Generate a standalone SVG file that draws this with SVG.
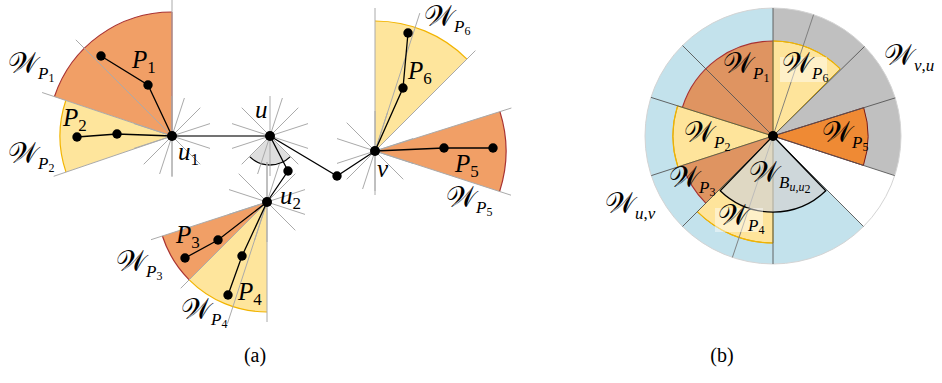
<svg xmlns="http://www.w3.org/2000/svg" xmlns:xlink="http://www.w3.org/1999/xlink" width="942" height="383" viewBox="0 0 942 383">
<style>
.g{stroke:#aaaaaa;stroke-width:1;fill:none}
.e{stroke:#000;stroke-width:1.3;fill:none}
.d{fill:#000}
.or{fill:#f19f66}
.ye{fill:#fee59c}
.ra{stroke:#a83232;stroke-width:1.2;fill:none}
.ya{stroke:#f2b400;stroke-width:1.2;fill:none}
.dl{stroke:#555;stroke-width:0.9;fill:none}
text{font-family:'Liberation Serif','DejaVu Serif',serif;fill:#000}
.w{font-family:'DejaVu Serif','DejaVu Sans','Liberation Serif',serif;font-size:29px}
.i{font-style:italic}
.m{font-size:25px}
.s{font-size:17px}
.t{font-size:12px}
.cap{font-size:20px}
</style>
<defs>
<g id="star" class="g">
<line x1="38" y1="-12.4" x2="-38" y2="12.4"/>
<line x1="28.3" y1="-28.3" x2="-28.3" y2="28.3"/>
<line x1="12.4" y1="-38" x2="-12.4" y2="38"/>
<line x1="-28.3" y1="-28.3" x2="28.3" y2="28.3"/>
<line x1="-38" y1="-12.4" x2="38" y2="12.4"/>
<line x1="0" y1="-40" x2="0" y2="40"/>
</g>
</defs>

<!-- (a) -->
<g id="u1-wedges">
<path class="or" d="M172,136 L172,12 A124,124 0 0 0 54.4,96.7 Z"/>
<path class="ra" d="M172,12 A124,124 0 0 0 54.4,96.7"/>
<line x1="172" y1="12" x2="172" y2="136" stroke="#b05050" stroke-width="1.2"/>
<path class="ye" d="M172,136 L65.8,100.5 A112,112 0 0 0 66,172.1 Z"/>
<path class="ya" d="M65.8,100.5 A112,112 0 0 0 66,172.1"/>
</g>
<g id="u2-wedges">
<path class="or" d="M267,202 L162.4,236 A110,110 0 0 0 189.2,279.8 Z"/>
<path class="ra" d="M162.4,236 A110,110 0 0 0 189.2,279.8"/>
<path class="ye" d="M267,202 L189.2,279.8 A110,110 0 0 0 267,312 Z"/>
<path class="ya" d="M189.2,279.8 A110,110 0 0 0 267,312"/>
</g>
<g id="v-wedges">
<path class="ye" d="M375,151 L375,21 A130,130 0 0 1 466.9,59.1 Z"/>
<path class="ya" d="M375,21 A130,130 0 0 1 466.9,59.1"/>
<path class="or" d="M375,151 L499.9,111.6 A131,131 0 0 1 499.6,191.5 Z"/>
<path class="ra" d="M499.9,111.6 A131,131 0 0 1 499.6,191.5"/>
</g>
<g id="u-angle">
<path d="M270,136 L249.9,156.9 A29,29 0 0 0 290.1,156.9 Z" fill="#dedede"/>
<path class="e" d="M249.9,156.9 A29,29 0 0 0 290.1,156.9"/>
</g>

<g id="guides" class="g">
<use xlink:href="#star" href="#star" x="172" y="136"/>
<use xlink:href="#star" href="#star" x="270" y="136"/>
<use xlink:href="#star" href="#star" x="267" y="202"/>
<use xlink:href="#star" href="#star" x="375" y="151"/>
<line x1="172" y1="0" x2="172" y2="177"/>
<line x1="172" y1="136" x2="75.8" y2="39.8"/>
<line x1="172" y1="136" x2="42.1" y2="92.5"/>
<line x1="172" y1="136" x2="53.7" y2="176.3"/>
<line x1="267" y1="162" x2="267" y2="322"/>
<line x1="267" y1="202" x2="151" y2="239.7"/>
<line x1="267" y1="202" x2="180.7" y2="288.3"/>
<line x1="267" y1="202" x2="227.4" y2="323.7"/>
<line x1="375" y1="8" x2="375" y2="195"/>
<line x1="375" y1="151" x2="475.4" y2="50.6"/>
<line x1="375" y1="151" x2="419.8" y2="13.1"/>
<line x1="375" y1="151" x2="511.4" y2="108"/>
<line x1="375" y1="151" x2="511" y2="195.2"/>
</g>

<g id="connectors">
<line x1="172" y1="136" x2="270" y2="136" stroke="#444" stroke-width="1.3"/>
<polyline class="e" points="270,136 337,176 375,151"/>
<polyline class="e" points="270,136 288,171 267,202"/>
<polyline class="e" points="172,136 148,85 101,56"/>
<polyline class="e" points="172,136 117,134 77,137"/>
<polyline class="e" points="267,202 218,240 185,258"/>
<polyline class="e" points="267,202 242,256 228,295"/>
<polyline class="e" points="375,151 444,148 493,148"/>
<polyline class="e" points="375,151 403,88 408,33"/>
</g>

<g id="node-u1"><circle class="d" cx="172" cy="136" r="5"/><text x="178" y="160" class="m i">u<tspan class="s" font-style="normal" dy="5">1</tspan></text></g>
<g id="node-u"><circle class="d" cx="270" cy="136" r="5"/><text x="255" y="118" class="m i">u</text></g>
<g id="node-u2"><circle class="d" cx="267" cy="202" r="5"/><text x="280" y="204" class="m i">u<tspan class="s" font-style="normal" dy="5">2</tspan></text></g>
<g id="node-v"><circle class="d" cx="375" cy="151" r="5"/><text x="377" y="177" class="m i">v</text></g>
<g id="node-a1"><circle class="d" cx="337" cy="176" r="4.7"/></g>
<g id="node-a2"><circle class="d" cx="288" cy="171" r="4.7"/></g>
<g id="path-P1"><circle class="d" cx="148" cy="85" r="4.7"/><circle class="d" cx="101" cy="56" r="4.7"/>
<text x="132" y="68" class="m i">P<tspan class="s" font-style="normal" dy="5">1</tspan></text>
<text x="8" y="73"><tspan class="w">𝒲</tspan><tspan class="s i" dy="6">P</tspan><tspan class="t" dy="3">1</tspan></text></g>
<g id="path-P2"><circle class="d" cx="117" cy="134" r="4.7"/><circle class="d" cx="77" cy="137" r="4.7"/>
<text x="63" y="126" class="m i">P<tspan class="s" font-style="normal" dy="5">2</tspan></text>
<text x="8" y="163"><tspan class="w">𝒲</tspan><tspan class="s i" dy="6">P</tspan><tspan class="t" dy="3">2</tspan></text></g>
<g id="path-P3"><circle class="d" cx="218" cy="240" r="4.7"/><circle class="d" cx="185" cy="258" r="4.7"/>
<text x="176" y="243" class="m i">P<tspan class="s" font-style="normal" dy="5">3</tspan></text>
<text x="116" y="271"><tspan class="w">𝒲</tspan><tspan class="s i" dy="6">P</tspan><tspan class="t" dy="3">3</tspan></text></g>
<g id="path-P4"><circle class="d" cx="242" cy="256" r="4.7"/><circle class="d" cx="228" cy="295" r="4.7"/>
<text x="238" y="300" class="m i">P<tspan class="s" font-style="normal" dy="5">4</tspan></text>
<text x="181" y="319"><tspan class="w">𝒲</tspan><tspan class="s i" dy="6">P</tspan><tspan class="t" dy="3">4</tspan></text></g>
<g id="path-P5"><circle class="d" cx="444" cy="148" r="4.7"/><circle class="d" cx="493" cy="148" r="4.7"/>
<text x="455" y="172" class="m i">P<tspan class="s" font-style="normal" dy="5">5</tspan></text>
<text x="446" y="207"><tspan class="w">𝒲</tspan><tspan class="s i" dy="6">P</tspan><tspan class="t" dy="3">5</tspan></text></g>
<g id="path-P6"><circle class="d" cx="403" cy="88" r="4.7"/><circle class="d" cx="408" cy="33" r="4.7"/>
<text x="408" y="79" class="m i">P<tspan class="s" font-style="normal" dy="5">6</tspan></text>
<text x="424" y="26"><tspan class="w">𝒲</tspan><tspan class="s i" dy="6">P</tspan><tspan class="t" dy="3">6</tspan></text></g>

<!-- (b) -->
<g id="disk">
<path d="M773,136 L773,8 A128,128 0 1 0 863.5,226.5 Z" fill="#c3e2ec"/>
<path d="M773,136 L773,8 A128,128 0 0 1 894.7,175.6 Z" fill="#c0c0c0"/>
<circle cx="773" cy="136" r="128" fill="none" stroke="#d4d4d4" stroke-width="1"/>
</g>
<g id="sector-P1"><path d="M773,136 L773,41 A95,95 0 0 0 682.4,107.4 Z" fill="#df9461"/><path class="ra" d="M773,41 A95,95 0 0 0 682.4,107.4"/></g>
<g id="sector-P2"><path d="M773,136 L677.6,105.9 A100,100 0 0 0 677.9,166.9 Z" fill="#fee49b" stroke="#c9a21a" stroke-width="1"/><path class="ya" d="M677.6,105.9 A100,100 0 0 0 677.9,166.9"/></g>
<g id="sector-P3"><path d="M773,136 L682.6,165.4 A95,95 0 0 0 705.8,203.2 Z" fill="#df9461"/><path class="ra" d="M682.6,165.4 A95,95 0 0 0 705.8,203.2"/></g>
<g id="sector-P4"><path d="M773,136 L697.3,211.7 A107,107 0 0 0 773,243 Z" fill="#fee49b" stroke="#c9a21a" stroke-width="1"/><path class="ya" d="M697.3,211.7 A107,107 0 0 0 773,243"/></g>
<g id="sector-P6"><path d="M773,136 L773,41 A95,95 0 0 1 840.2,68.8 Z" fill="#fee49b" stroke="#c9a21a" stroke-width="1"/><path class="ya" d="M773,41 A95,95 0 0 1 840.2,68.8"/></g>
<g id="sector-P5"><path d="M773,136 L863.7,107.7 A95,95 0 0 1 863.4,165.4 Z" fill="#ef8a34" stroke="#7a1a1a" stroke-width="1"/></g>
<g id="dividers" class="dl">
<line x1="773" y1="136" x2="773" y2="8"/>
<line x1="773" y1="136" x2="773" y2="264"/>
<line x1="773" y1="136" x2="895.2" y2="97.9"/>
<line x1="773" y1="136" x2="864.5" y2="46.5"/>
<line x1="773" y1="136" x2="682.5" y2="45.5"/>
<line x1="773" y1="136" x2="651" y2="97.4"/>
<line x1="773" y1="136" x2="651.3" y2="175.6"/>
<line x1="773" y1="136" x2="682.5" y2="226.5"/>
<line x1="773" y1="136" x2="894.7" y2="175.6"/>
<line x1="773" y1="136" x2="863.5" y2="226.5"/>
<line x1="813.6" y1="14.6" x2="732.4" y2="257.4" stroke="#777"/>
</g>
<g id="sector-B">
<path d="M773,136 L720.2,190.7 A76,76 0 0 0 825.8,190.7 Z" fill="#d2d2d2" fill-opacity="0.72" stroke="#000" stroke-width="1.3"/>
</g>
<g id="center"><circle class="d" cx="773" cy="136" r="5"/></g>
<g id="labels-b">
<rect x="780" y="57" width="47" height="25" fill="#fff" fill-opacity="0.45"/>
<rect x="715" y="208" width="48" height="24" fill="#fff" fill-opacity="0.45"/>
<text x="723" y="73"><tspan class="w">𝒲</tspan><tspan class="s i" dy="6">P</tspan><tspan class="t" dy="3">1</tspan></text>
<text x="782" y="73"><tspan class="w">𝒲</tspan><tspan class="s i" dy="6">P</tspan><tspan class="t" dy="3">6</tspan></text>
<text x="884" y="65"><tspan class="w">𝒲</tspan><tspan class="s i" dy="6">v</tspan><tspan class="s" >,</tspan><tspan class="s i">u</tspan></text>
<text x="684" y="142"><tspan class="w">𝒲</tspan><tspan class="s i" dy="6">P</tspan><tspan class="t" dy="3">2</tspan></text>
<text x="822" y="142"><tspan class="w">𝒲</tspan><tspan class="s i" dy="6">P</tspan><tspan class="t" dy="3">5</tspan></text>
<text x="669" y="187"><tspan class="w">𝒲</tspan><tspan class="s i" dy="6">P</tspan><tspan class="t" dy="3">3</tspan></text>
<text x="749" y="182"><tspan class="w">𝒲</tspan><tspan class="s i" dy="6">B</tspan><tspan class="t i" dy="3">u</tspan><tspan class="t">,</tspan><tspan class="t i">u</tspan><tspan class="t" font-size="9" dy="2">2</tspan></text>
<text x="605" y="213"><tspan class="w">𝒲</tspan><tspan class="s i" dy="6">u</tspan><tspan class="s">,</tspan><tspan class="s i">v</tspan></text>
<text x="718" y="225"><tspan class="w">𝒲</tspan><tspan class="s i" dy="6">P</tspan><tspan class="t" dy="3">4</tspan></text>
</g>
<g id="captions">
<text x="255" y="362" class="cap" text-anchor="middle">(a)</text>
<text x="722" y="362" class="cap" text-anchor="middle">(b)</text>
</g>
</svg>
